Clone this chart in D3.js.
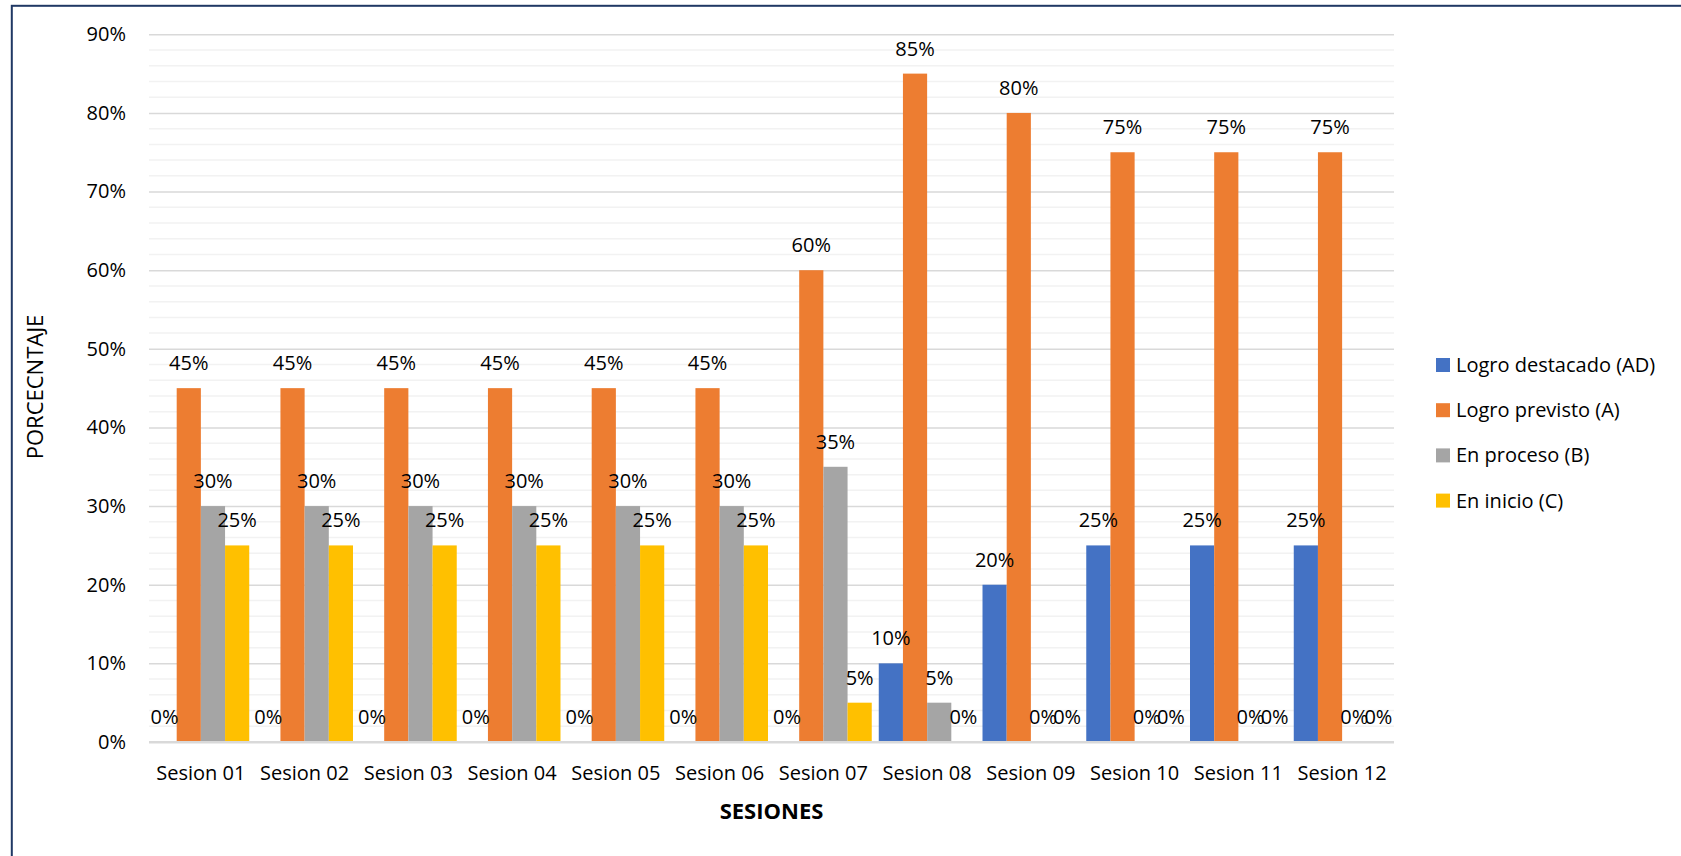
<!DOCTYPE html>
<html>
<head>
<meta charset="utf-8">
<script src="https://cdn.jsdelivr.net/npm/d3@7"></script>
<style>
  html, body { margin: 0; padding: 0; background: #fff; }
  svg { display: block; }
  text { font-family: "Open Sans", "DejaVu Sans", sans-serif; fill: #000; }
</style>
</head>
<body>
<svg id="chart" width="1681" height="856"></svg>
<script>
const categories = ["Sesion 01","Sesion 02","Sesion 03","Sesion 04","Sesion 05","Sesion 06","Sesion 07","Sesion 08","Sesion 09","Sesion 10","Sesion 11","Sesion 12"];
const seriesNames = ["Logro destacado (AD)","Logro previsto (A)","En proceso (B)","En inicio (C)"];
const seriesColors = ["#4472C4","#ED7D31","#A5A5A5","#FFC000"];
const logroDestacado = [0,0,0,0,0,0,0,10,20,25,25,25];
const logroPrevisto  = [45,45,45,45,45,45,60,85,80,75,75,75];
const enProceso      = [30,30,30,30,30,30,35,5,0,0,0,0];
const enInicio       = [25,25,25,25,25,25,5,0,0,0,0,0];
const yTicks = [0,10,20,30,40,50,60,70,80,90];
const xTitle = "SESIONES";
const yTitle = "PORCECNTAJE";

(function () {
const seriesValues = [logroDestacado, logroPrevisto, enProceso, enInicio];

const svg = d3.select("#chart");

// outer border
svg.append("rect")
  .attr("x", 11.8).attr("y", 5.8)
  .attr("width", 1700).attr("height", 900)
  .attr("fill", "none").attr("stroke", "#203864").attr("stroke-width", 2);

const pLeft = 149, pRight = 1394, pTop = 34.3, pBottom = 742;

const x0 = d3.scaleBand().domain(categories).range([pLeft, pRight]).padding(0);
const x1 = d3.scaleBand().domain(d3.range(seriesNames.length))
  .range([0, x0.bandwidth()]).paddingInner(0).paddingOuter(0.145);
const y = d3.scaleLinear().domain([0, 90]).range([pBottom, pTop]);

// minor gridlines
const minor = d3.range(0, 91, 2).filter(v => v % 10 !== 0);
svg.append("g").selectAll("line").data(minor).join("line")
  .attr("x1", pLeft).attr("x2", pRight)
  .attr("y1", d => y(d)).attr("y2", d => y(d))
  .attr("stroke", "#f2f2f2").attr("stroke-width", 1.5);

// major gridlines via axis
const yAxis = d3.axisLeft(y).tickValues(yTicks).tickSize(-(pRight - pLeft)).tickFormat(d => d + "%").tickPadding(23);
const gy = svg.append("g").attr("transform", `translate(${pLeft},0)`).call(yAxis);
gy.select(".domain").remove();
gy.selectAll(".tick line").attr("stroke", "#d9d9d9")
  .attr("stroke-width", d => d === 0 ? 2 : 1.5);
gy.selectAll(".tick text")
  .attr("font-size", 20).attr("fill", "#000")
  .attr("font-family", '"Open Sans", sans-serif');

// bars
const groups = svg.append("g").selectAll("g").data(categories).join("g")
  .attr("transform", d => `translate(${x0(d)},0)`);

groups.selectAll("rect")
  .data((c, i) => seriesValues.map((vals, s) => ({s, v: vals[i]})))
  .join("rect")
  .attr("x", d => x1(d.s))
  .attr("width", x1.bandwidth())
  .attr("y", d => y(d.v))
  .attr("height", d => y(0) - y(d.v))
  .attr("fill", d => seriesColors[d.s]);

// baseline axis line on top
svg.append("line").attr("x1", pLeft).attr("x2", pRight)
  .attr("y1", y(0)).attr("y2", y(0))
  .attr("stroke", "#d9d9d9").attr("stroke-width", 2);

// data labels
groups.selectAll("text.lbl")
  .data((c, i) => seriesValues.map((vals, s) => ({s, v: vals[i]})))
  .join("text").attr("class", "lbl")
  .attr("x", d => x1(d.s) + x1.bandwidth() / 2)
  .attr("y", d => y(d.v) - 18)
  .attr("text-anchor", "middle")
  .attr("font-size", 20)
  .text(d => d.v + "%");

// x axis labels
const xAxis = d3.axisBottom(x0).tickSize(0).tickPadding(0);
const gx = svg.append("g").attr("transform", `translate(0,${pBottom})`).call(xAxis);
gx.select(".domain").remove();
gx.selectAll(".tick text")
  .attr("y", 38).attr("dy", 0)
  .attr("font-size", 20).attr("fill", "#000")
  .attr("font-family", '"Open Sans", sans-serif');

// axis titles
svg.append("text")
  .attr("x", (pLeft + pRight) / 2).attr("y", 819)
  .attr("text-anchor", "middle")
  .attr("font-size", 22).attr("font-weight", "bold")
  .text(xTitle);

svg.append("text")
  .attr("transform", `translate(43,387) rotate(-90)`)
  .attr("text-anchor", "middle")
  .attr("font-size", 22)
  .text(yTitle);

// legend
const legend = svg.append("g").attr("transform", "translate(1436,365)");
const li = legend.selectAll("g").data(seriesNames).join("g")
  .attr("transform", (d, i) => `translate(0,${i * 45.2})`);
li.append("rect").attr("x", 0).attr("y", -7).attr("width", 14).attr("height", 14)
  .attr("fill", (d, i) => seriesColors[i]);
li.append("text").attr("x", 20).attr("y", 7).attr("font-size", 20).text(d => d);
})();
</script>
</body>
</html>
